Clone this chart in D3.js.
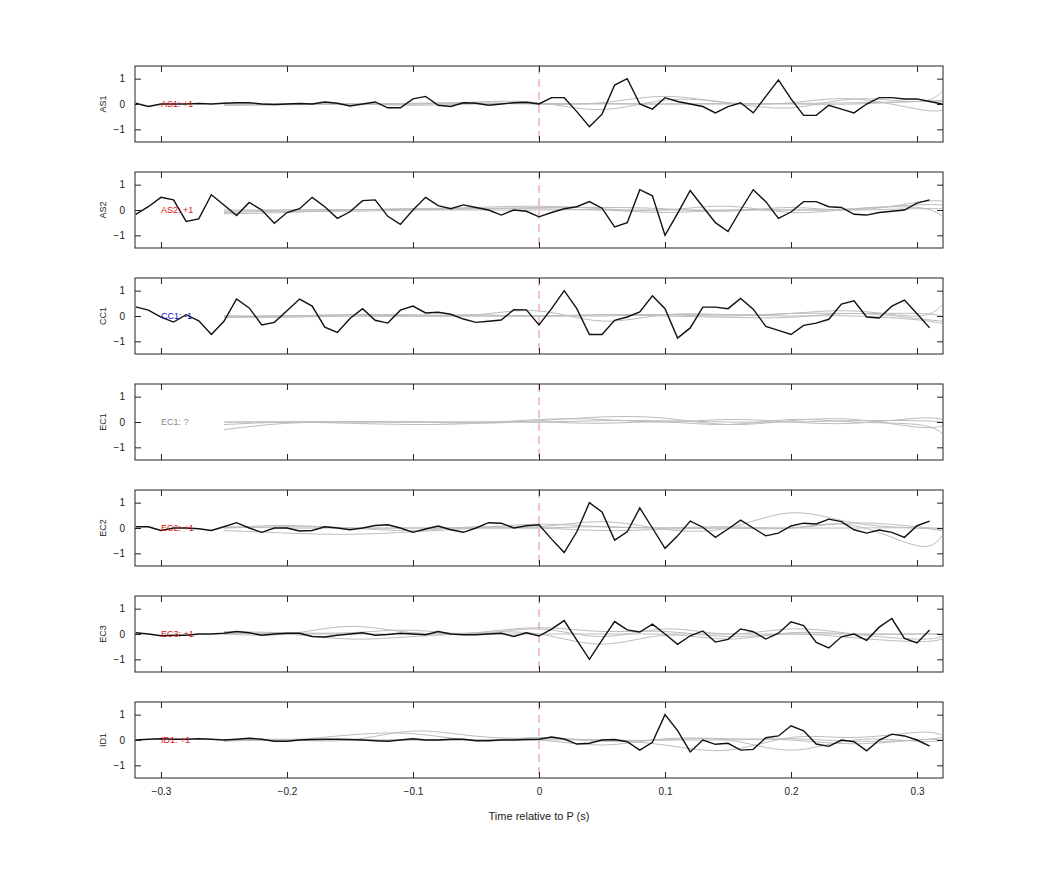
<!DOCTYPE html>
<html>
<head>
<meta charset="utf-8">
<script src="https://cdn.jsdelivr.net/npm/d3@7"></script>
<style>
  body { margin: 0; background: #fff; }
  svg { font-family: "Liberation Sans", Arial, sans-serif; }
  .axis text { font-size: 10px; fill: #222; }
  .frame { fill: none; stroke: #222; stroke-width: 1; }
  .gray { fill: none; stroke: #bdbdbd; stroke-width: 1; }
  .black { fill: none; stroke: #111; stroke-width: 1.4; }
  .zero { stroke: #e88; stroke-width: 1; stroke-dasharray: 8 5; }
</style>
</head>
<body>
<svg width="1042" height="875"></svg>
<script>
const stations = ["AS1", "AS2", "CC1", "EC1", "EC2", "EC3", "ID1"];
const polarity = ["+1", "+1", "-1", "?", "+1", "+1", "+1"];
const polarityColor = ["#d11", "#d11", "#11c", "#888", "#d11", "#d11", "#d11"];
const xTicks = [-0.3, -0.2, -0.1, 0, 0.1, 0.2, 0.3];
const yTicks = [-1, 0, 1];

// black traces, sampled every 0.01 s starting at -0.32
const t0 = -0.32;
const as1 = [0.03,-0.1,0,0,0,0.02,0,0.03,0.05,0.05,0,-0.02,0,0.02,0,0.08,0.03,-0.08,0,0.08,-0.15,-0.15,0.2,0.3,-0.05,-0.1,0.05,0.03,-0.05,0,0.05,0.07,0,
  0.25,0.25,-0.3,-0.9,-0.4,0.75,1.0,0,-0.2,0.25,0.1,0,-0.1,-0.35,-0.1,0.05,-0.35,0.3,0.95,0.2,-0.45,-0.45,-0.05,-0.2,-0.35,0,0.25,0.25,0.2,0.2,0.1,0];
const as2 = [-0.17,0.13,0.5,0.4,-0.45,-0.35,0.6,0.2,-0.22,0.3,0,-0.52,-0.1,0.05,0.5,0.13,-0.33,-0.07,0.37,0.4,-0.25,-0.57,0,0.5,0.17,0.05,0.2,0.1,0,-0.2,0,-0.05,-0.27,
  -0.1,0.05,0.13,0.33,0.07,-0.67,-0.5,0.8,0.56,-1.0,-0.13,0.77,0.13,-0.5,-0.85,0,0.8,0.33,-0.33,-0.08,0.33,0.33,0.13,0.1,-0.17,-0.2,-0.1,-0.05,0,0.27,0.4];
const cc1 = [0.36,0.23,-0.04,-0.24,0.05,-0.19,-0.73,-0.21,0.67,0.32,-0.35,-0.25,0.21,0.67,0.39,-0.44,-0.65,-0.1,0.29,-0.17,-0.28,0.23,0.39,0.12,0.15,0.07,-0.12,-0.25,-0.21,-0.16,0.25,0.24,-0.35,
  0.29,1.0,0.29,-0.73,-0.73,-0.17,-0.04,0.16,0.8,0.29,-0.87,-0.47,0.35,0.35,0.29,0.69,0.27,-0.41,-0.57,-0.73,-0.37,-0.28,-0.13,0.47,0.6,-0.04,-0.08,0.39,0.63,0.09,-0.47];
const ec1 = [];
const ec2 = [0.05,0.05,-0.1,0,0,-0.03,-0.1,0.05,0.21,0,-0.17,0,0,-0.12,-0.1,0.05,0,-0.07,0,0.1,0.13,0,-0.17,-0.04,0.08,-0.07,-0.17,0,0.21,0.19,0,0.09,0.13,
  -0.44,-0.97,-0.15,1.0,0.63,-0.48,-0.15,0.79,0,-0.8,-0.31,0.27,0.03,-0.37,-0.04,0.31,0,-0.31,-0.2,0.08,0.19,0.16,0.35,0.25,-0.07,-0.2,-0.08,-0.17,-0.37,0.09,0.27];
const ec3 = [0.05,0,-0.07,-0.05,-0.05,0,0,0.03,0.1,0.05,-0.05,0,0.03,0.03,-0.1,-0.12,-0.05,0,0.05,-0.05,-0.02,0.03,0,-0.03,0.1,0,-0.03,-0.03,0,0.03,-0.1,0.05,-0.08,
  0.19,0.53,-0.24,-1.0,-0.24,0.49,0.16,0.08,0.39,0,-0.41,-0.07,0.12,-0.32,-0.21,0.2,0.09,-0.2,0.03,0.48,0.33,-0.33,-0.55,-0.11,0,-0.25,0.27,0.61,-0.17,-0.35,0.16];
const id1 = [0,0.03,0.05,0.03,0.03,0.05,0.03,0,0.03,0.07,0.03,-0.05,-0.05,0,0.02,0.03,0.03,0.02,0,-0.03,-0.05,0,0.05,0,0,0.03,0.03,-0.03,-0.03,0,0,0.02,0.03,
  0.12,0.04,-0.16,-0.13,0,0.02,-0.07,-0.4,-0.09,1.0,0.37,-0.47,0,-0.17,-0.13,-0.4,-0.37,0.09,0.16,0.56,0.36,-0.16,-0.25,0,-0.07,-0.43,0,0.23,0.16,0,-0.24];
const blackTraces = [as1, as2, cc1, ec1, ec2, ec3, id1];

// gray (synthetic) traces, sampled on a coarse time grid
const grayTimes = [-0.25,-0.2,-0.15,-0.1,-0.05,0,0.05,0.1,0.15,0.2,0.25,0.3,0.32];
const grayTraces = [
  [[0,0,0,0,0.08,0.05,-0.22,0.15,0.05,-0.15,0.2,0.1,0.5],
   [-0.05,-0.03,0,0.03,0.05,0,0.05,0.3,0.05,0.05,0.2,-0.2,-0.25],
   [0,0,0,-0.05,0,0.02,0,0,0.02,0,0,0.1,0.1],
   [-0.05,-0.02,0,0,0.02,0,0.02,0,0,0.02,0.05,0.1,0.15]],
  [[-0.1,-0.05,-0.05,0,0.05,0.1,0.1,0.05,-0.05,0.1,0,0.3,0.35],
   [-0.15,-0.1,0,0.05,0.1,0.15,0.05,0,0.15,-0.1,0.05,0.1,-0.25],
   [-0.05,0,0.02,0,0,0,0,-0.1,0,0,0.05,0.2,0.2],
   [0,0,0,0.05,0.05,0.05,0,0,0,0,0,0.05,0.05]],
  [[0,0,0.05,0.05,0.05,0.2,-0.2,0.05,0.05,0.1,0.2,0,0.45],
   [-0.05,0,0,0,0.05,0,0.05,0,-0.05,-0.05,0.1,-0.1,-0.2],
   [0,0,0.05,0,0,0,0.05,0.05,0,0.1,0.1,0.1,0],
   [-0.05,-0.05,0,0,0,0,0,0.05,0.05,0,0,-0.15,-0.3]],
  [[-0.3,-0.05,0,0,-0.05,0.05,0.2,0.15,-0.1,0.05,0.1,-0.2,-0.15],
   [0,0,-0.05,-0.1,-0.05,0.1,0.1,0,0.1,0,-0.05,0.15,0.1],
   [-0.1,0,0.02,0,0,0,-0.05,0,-0.1,0.1,0,-0.1,-0.45],
   [0,0,0,0,0,0,0.05,0.05,0,0,0.05,0.05,0]],
  [[0,0.05,0,-0.1,0.05,0.05,0.25,-0.05,0,0.6,0.2,0,-0.1],
   [-0.1,-0.2,-0.25,-0.15,0,0.15,0.05,0,0,0,0.1,-0.7,-0.3],
   [0,0.1,0,0,0,0,0.05,0,0.05,0,0.2,0.05,0],
   [0.05,0,0,0,0,0,-0.1,-0.05,0,0,0,0,-0.1]],
  [[0.1,0.05,0.05,0.15,0,0.2,-0.1,0.2,0,0.2,0,-0.2,-0.1],
   [0,0,-0.2,-0.1,0.05,0.25,0.1,0.1,-0.1,0,-0.15,-0.3,-0.2],
   [0,0,0.3,0.05,0.05,0,-0.4,-0.05,-0.2,0.05,0,0,0],
   [0.05,0,0,0,0,0,0,0,0,0,0,0,0]],
  [[0,0,0.2,0.25,0,0.1,-0.05,0,0,0.05,-0.05,0,0.1],
   [-0.05,0,0,0.35,0.15,0.05,0,-0.2,-0.4,0.1,0.1,0.3,0.2],
   [0,0.03,0,0,0,0,0,0,0,-0.4,0,-0.05,0],
   [0,0,0,0,0,0,-0.2,0.05,0.05,0,-0.15,0,0]]
];

const svg = d3.select("svg");
const left = 135, right = 943, top0 = 66, panelH = 76, step = 106;

const x = d3.scaleLinear().domain([-0.3206, 0.3206]).range([left, right]);

stations.forEach((name, i) => {
  const top = top0 + i * step;
  const y = d3.scaleLinear().domain([-1.5, 1.5]).range([top + panelH, top]);
  const g = svg.append("g");

  const clipId = "clip" + i;
  g.append("clipPath").attr("id", clipId)
    .append("rect").attr("x", left).attr("y", top).attr("width", right - left).attr("height", panelH);
  const plot = g.append("g").attr("clip-path", `url(#${clipId})`);

  plot.append("line").attr("class", "zero")
    .attr("x1", x(0)).attr("x2", x(0)).attr("y1", top).attr("y2", top + panelH);

  const grayLine = d3.line()
    .x((d, k) => x(grayTimes[k]))
    .y(d => y(d))
    .curve(d3.curveNatural);
  grayTraces[i].forEach(tr => {
    plot.append("path").datum(tr).attr("class", "gray").attr("d", grayLine);
  });

  const blackLine = d3.line()
    .x((d, k) => x(t0 + k * 0.01))
    .y(d => y(d));
  if (blackTraces[i].length) {
    plot.append("path").datum(blackTraces[i]).attr("class", "black").attr("d", blackLine);
  }

  g.append("text")
    .attr("x", x(-0.3)).attr("y", y(0)).attr("dy", "0.35em")
    .style("font-size", "9px").attr("fill", polarityColor[i])
    .text(`${name}: ${polarity[i]}`);

  // axes with inward ticks on all four sides
  const yL = d3.axisLeft(y).tickValues(yTicks).tickSizeInner(-6).tickSizeOuter(0).tickPadding(10).tickFormat(d3.format("d"));
  const yR = d3.axisRight(y).tickValues(yTicks).tickSizeInner(-6).tickSizeOuter(0).tickFormat("");
  const xB = d3.axisBottom(x).tickValues(xTicks).tickSizeInner(-6).tickSizeOuter(0).tickPadding(10)
    .tickFormat(i === stations.length - 1 ? d => d3.format("")(+d.toFixed(1)) : "");
  const xT = d3.axisTop(x).tickValues(xTicks).tickSizeInner(-6).tickSizeOuter(0).tickFormat("");

  [[yL, `translate(${left},0)`], [yR, `translate(${right},0)`],
   [xB, `translate(0,${top + panelH})`], [xT, `translate(0,${top})`]].forEach(([ax, tf]) => {
    const a = g.append("g").attr("class", "axis").attr("transform", tf).call(ax);
    a.select(".domain").remove();
    a.selectAll("line").attr("stroke", "#222");
  });

  g.append("rect").attr("class", "frame")
    .attr("x", left).attr("y", top).attr("width", right - left).attr("height", panelH);

  g.append("text")
    .attr("transform", `translate(106,${y(0)}) rotate(-90)`)
    .attr("text-anchor", "middle")
    .style("font-size", "9px").attr("fill", "#222")
    .text(name);
});

svg.append("text")
  .attr("x", (left + right) / 2).attr("y", 820)
  .attr("text-anchor", "middle")
  .style("font-size", "11px").attr("fill", "#222")
  .text("Time relative to P (s)");
</script>
</body>
</html>
